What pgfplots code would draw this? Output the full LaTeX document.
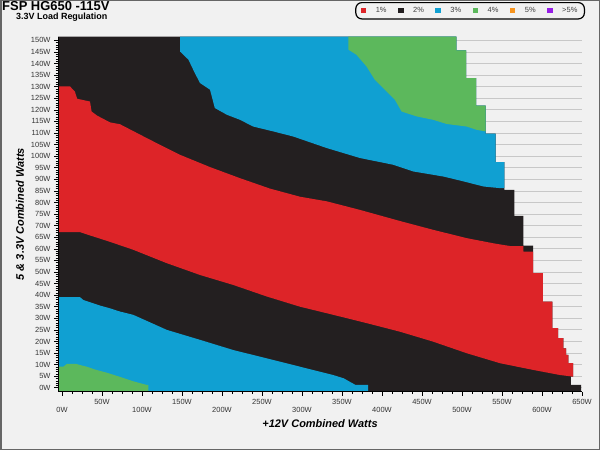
\documentclass[border=0pt]{standalone}
\usepackage{fontspec}
\setmainfont{Liberation Sans}
\usepackage{xcolor}
\usepackage{pgfplots}
\pgfplotsset{compat=1.18}
\definecolor{bgcol}{RGB}{241,241,241}
\definecolor{redc}{RGB}{221,36,40}
\definecolor{blackc}{RGB}{35,31,32}
\definecolor{bluec}{RGB}{16,160,210}
\definecolor{greenc}{RGB}{92,184,92}
\definecolor{orangec}{RGB}{247,148,30}
\definecolor{purplec}{RGB}{150,30,230}
\definecolor{gridc}{RGB}{200,200,200}
\pgfplotsset{
  layers/mylayers/.define layer set={axis background,axis grid,main,axis ticks,axis lines,axis tick labels,axis descriptions,axis foreground}{
    grid style={/pgfplots/on layer=axis grid},
    tick style={/pgfplots/on layer=axis ticks},
    axis line style={/pgfplots/on layer=axis lines},
    label style={/pgfplots/on layer=axis descriptions},
    legend style={/pgfplots/on layer=axis descriptions},
    title style={/pgfplots/on layer=axis descriptions},
    colorbar style={/pgfplots/on layer=axis descriptions},
    ticklabel style={/pgfplots/on layer=axis tick labels},
    axis background@ style={/pgfplots/on layer=axis background},
    3d box foreground style={/pgfplots/on layer=axis foreground},
  },
  sqlegend/.style={legend image code/.code={\path[sharp corners, fill=#1, draw=none] (0bp,-2.7bp) rectangle (5.4bp,2.7bp); \path[sharp corners, draw=none, fill=none] (0bp,0bp) -- (13bp,0bp);}},
}
\pagecolor{bgcol}
\begin{document}
\begin{tikzpicture}
\draw[line width=1.5bp, draw=black!60] (0.75bp,0.75bp) rectangle (599.25bp,449.25bp);
\node[anchor=base west, inner sep=0, text height=9.3bp, text depth=0bp, font=\bfseries\fontsize{13}{14}\selectfont] at (2bp,439.8bp) {FSP HG650 -115V};
\node[anchor=base west, inner sep=0, text height=6.5bp, text depth=1.5bp, font=\bfseries\fontsize{9}{10}\selectfont] at (16bp,430bp) {3.3V Load Regulation};
\begin{axis}[
  set layers=mylayers,
  at={(58bp,58.3bp)}, anchor=south west,
  scale only axis, width=524bp, height=355bp,
  xmin=-5, xmax=650, ymin=-1.7, ymax=151.6,
  axis x line*=bottom, axis y line*=left,
  axis line style={-, black, line width=0.9bp},
  tick align=outside,
  major tick length=4bp, minor tick length=2.5bp,
  tick style={black, line width=0.6bp},
  ytick={0,5,...,150}, minor y tick num=4,
  yticklabel={\pgfmathprintnumber{\tick}W},
  xtick={0,50,...,650}, minor x tick num=3,
  xticklabels={,50W,,150W,,250W,,350W,,450W,,550W,,650W},
  extra x ticks={0,100,...,600},
  extra x tick labels={0W,100W,200W,300W,400W,500W,600W},
  extra x tick style={tick label style={yshift=-8bp}},
  /pgf/number format/assume math mode=true,
  tick label style={font=\fontsize{7.5}{8}\selectfont, text=black!80},
  ymajorgrids, major grid style={gridc, line width=0.8bp},
  every axis x label/.style={at={(axis description cs:0.5,-0.091)}, anchor=center},
  every axis y label/.style={at={(axis description cs:-0.0725,0.5)}, anchor=center, rotate=90},
  xlabel={+12V Combined Watts}, ylabel={5 \& 3.3V Combined Watts},
  label style={font=\bfseries\itshape\fontsize{11}{12}\selectfont},
  legend columns=6,
  legend style={at={(axis description cs:1.0057,1.0977)}, anchor=north east, draw=black, line width=1.2bp, rounded corners=6bp, fill=bgcol, font=\fontsize{7.5}{8}\selectfont, text=black!75, inner xsep=5bp, inner ysep=2.8bp, /tikz/every even column/.append style={column sep=9.5bp}},
]
% 2% band: whole measured region (envelope)
\addplot[fill=blackc, draw=none, forget plot] coordinates {
(-5,-1.7) (-5,151.6) (493,151.6) (493,145.7) (505,145.7) (505,133.7) (517.5,133.7) (517.5,121.8) (529.6,121.8) (529.6,109.7) (542,109.7) (542,97.4) (553,97.4) (553,85.5) (565.4,85.5) (565.4,74.2) (576.7,74.2) (576.7,61.4) (589,61.4) (589,49.5) (601,49.5) (601,37.2) (613,37.2) (613,25.7) (620,25.7) (620,21.4) (626.7,21.4) (626.7,17) (630,17) (630,14.2) (633,14.2) (633,10.6) (639,10.6) (639,4.8) (636,4.8) (636,1.2) (649,1.2) (649,-1.7)
} -- cycle;
% 1% band
\addplot[fill=redc, draw=none, forget plot] coordinates {
(-5,130.1) (10,130.1) (16,128) (19,124.8) (35,123.6) (37,119.3) (44,117.5) (60,114.6) (72.5,113.8) (110,107.1) (147.5,100.6) (185,95.3) (222.5,90.5) (260,86) (297.5,82.5) (331,80.5) (372.5,76.8) (422.5,72) (464,68.2) (506,64.6) (539,62.4) (560,61.2) (576.7,61.2) (576.7,58.8) (589,58.8) (589,49.5) (601,49.5) (601,37.2) (613,37.2) (613,25.7) (620,25.7) (620,21.4) (626.7,21.4) (626.7,17) (630,17) (630,14.2) (633,14.2) (633,10.6) (639,10.6) (639,4.8) (622.5,5.5) (589,7.7) (547.5,10.6) (506,14.9) (464,19.9) (422.5,24.2) (381,27.9) (339,31.5) (297.5,35) (256,39.4) (214,44.4) (172.5,48.7) (131,53.8) (89,59.6) (60,63) (47.5,64.4) (33,66) (22.5,67.2) (-5,67.2)
} -- cycle;
% 3% band, upper
\addplot[fill=bluec, draw=none, forget plot] coordinates {
(147.5,151.6) (147.5,145.2) (158,141.7) (166,135.9) (172.5,131.6) (185,128.7) (191,120.8) (206,117.9) (222.5,115.7) (239,112.8) (264,110.7) (289,108.5) (331,103.5) (372.5,99.2) (414,96.3) (439,93.4) (477,91.2) (502,89.1) (527,86.9) (547.5,86.2) (553,86.2) (553,97.4) (542,97.4) (542,109.7) (529.6,109.7) (529.6,121.8) (517.5,121.8) (517.5,133.7) (505,133.7) (505,145.7) (493,145.7) (493,151.6)
} -- cycle;
% 4% band, upper
\addplot[fill=greenc, draw=none, forget plot] coordinates {
(358,151.6) (358,146) (368,143.8) (380.5,138.8) (391,133) (401.5,129.4) (416,124.4) (424.5,119.3) (443,117.2) (464,115.7) (481,113.9) (506,112.8) (518,111.4) (529.6,110.7) (529.6,121.8) (517.5,121.8) (517.5,133.7) (505,133.7) (505,145.7) (493,145.7) (493,151.6)
} -- cycle;
% 3% band, lower
\addplot[fill=bluec, draw=none, forget plot] coordinates {
(-5,39.1) (22.5,39.1) (26.7,37.9) (39,36.5) (47.5,35.5) (60,34.3) (72.5,32.9) (89,31.5) (131,25) (172.5,20.7) (214,16.3) (256,12.7) (297.5,9.1) (339,5.5) (352,4.1) (367,1.2) (382.5,1.2) (382.5,-1.7) (-5,-1.7)
} -- cycle;
% 4% band, lower
\addplot[fill=greenc, draw=none, forget plot] coordinates {
(-5,9.1) (1.7,9.1) (6,10.3) (18,10.3) (22.5,9.8) (31,9.1) (41,7.9) (56,6.5) (68,5.2) (89,2.8) (106,1.2) (108,1.2) (108,-1.7) (-5,-1.7)
} -- cycle;
\addlegendimage{sqlegend=redc}\addlegendentry{1\%}
\addlegendimage{sqlegend=blackc}\addlegendentry{2\%}
\addlegendimage{sqlegend=bluec}\addlegendentry{3\%}
\addlegendimage{sqlegend=greenc}\addlegendentry{4\%}
\addlegendimage{sqlegend=orangec}\addlegendentry{5\%}
\addlegendimage{sqlegend=purplec}\addlegendentry{>5\%}
\end{axis}
\useasboundingbox (0,0) rectangle (600bp,450bp);
\end{tikzpicture}
\end{document}
